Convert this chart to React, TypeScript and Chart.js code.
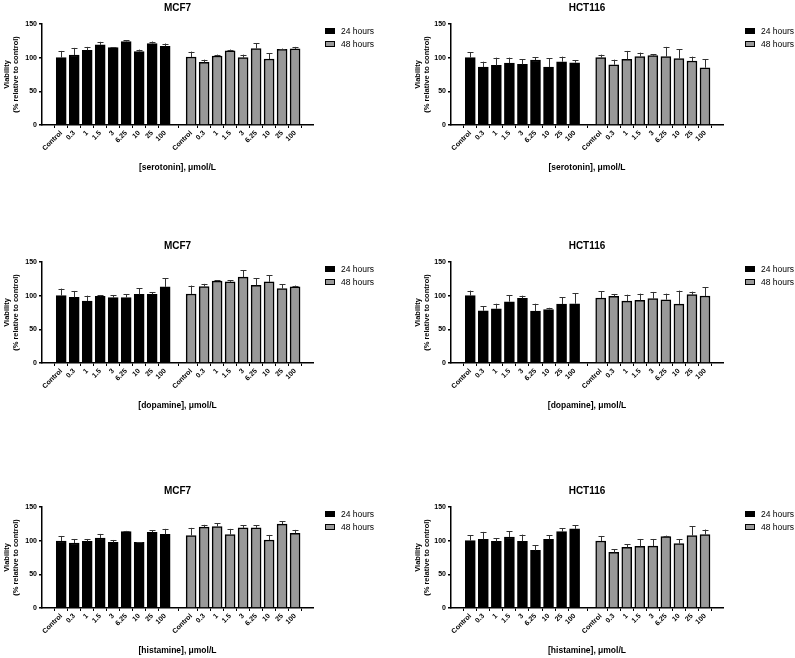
import React, { useEffect, useRef } from 'react';
import { Chart, registerables } from 'chart.js';

Chart.register(...registerables);

const FONT = '"Liberation Sans", Arial, Helvetica, sans-serif';

// ---- data ----
const doseLabels = ['Control', '0.3', '1', '1.5', '3', '6.25', '10', '25', '100'];
const seriesNames = ['24 hours', '48 hours'];
const cellLines = ['MCF7', 'HCT116'];
const compounds = ['serotonin', 'dopamine', 'histamine'];
const yTicks = [0, 50, 100, 150];

const mcf7Serotonin24 = [100, 104, 111, 119, 115, 124, 109, 121, 117];
const mcf7SerotoninSd24 = [10, 10.5, 5, 4.5, 0.5, 1.5, 3, 3, 4];
const mcf7Serotonin48 = [101, 93, 102.5, 110, 100, 113.5, 98, 112.5, 113];
const mcf7SerotoninSd48 = [8, 4, 2, 2, 4.5, 8, 8.5, 1, 3];

const hct116Serotonin24 = [100, 86, 88.5, 92, 90, 96.5, 86, 94, 92.5];
const hct116SerotoninSd24 = [8, 8, 11.5, 8, 8, 4.5, 13, 7.5, 4];
const hct116Serotonin48 = [100, 89.5, 97.5, 101.5, 103, 101.5, 98.5, 95, 85];
const hct116SerotoninSd48 = [4.5, 7.5, 12.5, 6, 2, 14.5, 14, 6.5, 12.5];

const mcf7Dopamine24 = [100, 97.5, 92, 99, 97, 97, 102, 102, 113];
const mcf7DopamineSd24 = [10.5, 9.5, 8, 2, 4, 5, 9, 3, 13];
const mcf7Dopamine48 = [102.5, 113.5, 121.5, 120.5, 127.5, 115.5, 120.5, 110.5, 113];
const mcf7DopamineSd48 = [12.5, 4, 1.5, 2.5, 10, 10.5, 9.5, 6.5, 2];

const hct116Dopamine24 = [100, 77.5, 80.5, 91, 96, 77, 79.5, 87.5, 88];
const hct116DopamineSd24 = [7.5, 6.5, 7.5, 10, 4, 11, 2.5, 10.5, 15.5];
const hct116Dopamine48 = [96.5, 99, 92, 93, 95.5, 94, 87.5, 101.5, 99.5];
const hct116DopamineSd48 = [10, 3.5, 9.5, 10, 10, 9, 20, 4.5, 13];

const mcf7Histamine24 = [99.5, 96.5, 99, 104, 97.5, 113.5, 97.5, 112.5, 109.5];
const mcf7HistamineSd24 = [7.5, 6, 3.5, 6, 3.5, 1, 0.5, 3, 8];
const mcf7Histamine48 = [107.5, 120, 121, 109, 119, 119, 101, 124.5, 111];
const mcf7HistamineSd48 = [11.5, 3.5, 5, 8.5, 4, 4, 7.5, 4, 5];

const hct116Histamine24 = [100, 102, 99, 105.5, 99, 85.5, 102, 113.5, 117.5];
const hct116HistamineSd24 = [8, 11, 4.5, 8.5, 10, 7.5, 6, 5, 5.5];
const hct116Histamine48 = [99.5, 82.5, 90, 91.5, 92, 106, 95.5, 107.5, 109];
const hct116HistamineSd48 = [7.5, 4.5, 4.5, 11, 10.5, 1.5, 7, 14, 7.5];

const panelSpecs = [
  { row: 0, col: 0, cell: cellLines[0], compound: compounds[0], v: [mcf7Serotonin24, mcf7Serotonin48], e: [mcf7SerotoninSd24, mcf7SerotoninSd48] },
  { row: 0, col: 1, cell: cellLines[1], compound: compounds[0], v: [hct116Serotonin24, hct116Serotonin48], e: [hct116SerotoninSd24, hct116SerotoninSd48] },
  { row: 1, col: 0, cell: cellLines[0], compound: compounds[1], v: [mcf7Dopamine24, mcf7Dopamine48], e: [mcf7DopamineSd24, mcf7DopamineSd48] },
  { row: 1, col: 1, cell: cellLines[1], compound: compounds[1], v: [hct116Dopamine24, hct116Dopamine48], e: [hct116DopamineSd24, hct116DopamineSd48] },
  { row: 2, col: 0, cell: cellLines[0], compound: compounds[2], v: [mcf7Histamine24, mcf7Histamine48], e: [mcf7HistamineSd24, mcf7HistamineSd48] },
  { row: 2, col: 1, cell: cellLines[1], compound: compounds[2], v: [hct116Histamine24, hct116Histamine48], e: [hct116HistamineSd24, hct116HistamineSd48] },
];

// ---- layout / style ----
const rowTops = [0, 238, 483];
const colLefts = [0, 400];
const colWidths = [400, 395];
const panelHeight = 175;
const padLeft = [1, 12];
const padRight = [87, 72];
const yScaleWidth = [41, 39];
const legendOffset = [12, 22];
const barColors = ['#000000', '#999999'];

const groupSize = doseLabels.length + 1; // one empty slot between groups
const posFor = (g: number, i: number) => g * groupSize + i;
const tickPositions: number[] = [];
[0, 1].forEach((g) => doseLabels.forEach((_, i) => tickPositions.push(posFor(g, i))));
const labelFor = (v: number) => {
  const r = Math.round(v) % groupSize;
  return doseLabels[r] ?? '';
};

const errorBarsPlugin = {
  id: 'errorBars',
  afterDatasetsDraw(chart: any) {
    const ctx = chart.ctx;
    const yScale = chart.scales.y;
    chart.data.datasets.forEach((ds: any, di: number) => {
      const meta = chart.getDatasetMeta(di);
      meta.data.forEach((bar: any, i: number) => {
        const val = ds.data[i].y;
        const err = ds.errors[i];
        const top = yScale.getPixelForValue(val + err);
        const x = Math.round(bar.x) + 0.5;
        ctx.save();
        ctx.strokeStyle = '#333333';
        ctx.lineWidth = 1;
        ctx.beginPath();
        ctx.moveTo(x, bar.y);
        ctx.lineTo(x, top);
        ctx.moveTo(x - 3, Math.round(top) + 0.5);
        ctx.lineTo(x + 3, Math.round(top) + 0.5);
        ctx.stroke();
        ctx.restore();
      });
    });
  },
};

const sideLegendPlugin = {
  id: 'sideLegend',
  afterDraw(chart: any, _args: any, opts: any) {
    const { ctx, chartArea } = chart;
    const x0 = Math.round(chartArea.right + (opts.offset || 12));
    chart.data.datasets.forEach((ds: any, i: number) => {
      const yc = Math.round(chartArea.top + 7 + i * 12.5);
      ctx.save();
      ctx.fillStyle = ds.backgroundColor;
      ctx.fillRect(x0, yc - 3, 10, 6);
      ctx.strokeStyle = '#000';
      ctx.lineWidth = 1;
      ctx.strokeRect(x0 + 0.5, yc - 2.5, 9, 5);
      ctx.fillStyle = '#000';
      ctx.font = `8.5px ${FONT}`;
      ctx.textBaseline = 'middle';
      ctx.textAlign = 'left';
      ctx.fillText(ds.label, x0 + 16, yc + 0.5);
      ctx.restore();
    });
  },
};

function Panel({ spec }: { spec: any }) {
  const ref = useRef<HTMLCanvasElement>(null);
  const col = spec.col;
  const width = colWidths[col];
  useEffect(() => {
    if (!ref.current) return;
    const datasets = [0, 1].map((g) => ({
      label: seriesNames[g],
      data: spec.v[g].map((y: number, i: number) => ({ x: posFor(g, i), y })),
      errors: spec.e[g],
      backgroundColor: barColors[g],
      borderColor: '#000000',
      borderWidth: 1.5,
      barThickness: 10,
      grouped: false,
    }));
    const chart = new Chart(ref.current, {
      type: 'bar',
      data: { datasets } as any,
      options: {
        responsive: false,
        animation: false,
        devicePixelRatio: 1,
        layout: { padding: { left: padLeft[col], right: padRight[col], top: 0, bottom: 0 } },
        plugins: {
          legend: { display: false },
          tooltip: { enabled: false },
          title: {
            display: true,
            text: spec.cell,
            fullSize: false,
            color: '#000',
            font: { family: FONT, size: 10, weight: 'bold' },
            padding: { top: 2, bottom: 10 },
          },
          sideLegend: { offset: legendOffset[col] },
        } as any,
        scales: {
          x: {
            type: 'linear',
            min: -0.9,
            max: 18.8,
            afterBuildTicks: (s: any) => {
              s.ticks = tickPositions.map((v) => ({ value: v }));
            },
            afterFit: (s: any) => {
              s.height = 50;
            },
            ticks: {
              autoSkip: false,
              minRotation: 45,
              maxRotation: 45,
              padding: 1,
              color: '#000',
              font: { family: FONT, size: 7, weight: 'bold' },
              callback: (v: any) => labelFor(Number(v)),
            },
            grid: { display: true, drawOnChartArea: false, drawTicks: true, tickLength: 3, color: '#000', lineWidth: 1 },
            border: { display: true, color: '#000', width: 1.5 },
            title: {
              display: true,
              text: `[${spec.compound}], μmol/L`,
              color: '#000',
              font: { family: FONT, size: 8.5, weight: 'bold' },
              padding: { top: 0, bottom: 2.5 },
            },
          },
          y: {
            min: yTicks[0],
            max: yTicks[yTicks.length - 1],
            afterBuildTicks: (s: any) => {
              s.ticks = yTicks.map((v) => ({ value: v }));
            },
            afterFit: (s: any) => {
              s.width = yScaleWidth[col];
            },
            ticks: {
              color: '#000',
              padding: 2,
              font: { family: FONT, size: 7, weight: 'bold' },
            },
            grid: { display: true, drawOnChartArea: false, drawTicks: true, tickLength: 3, color: '#000', lineWidth: 1.5 },
            border: { display: true, color: '#000', width: 1.5 },
            title: {
              display: true,
              text: ['Viability', '(% relative to control)'],
              color: '#000',
              font: { family: FONT, size: 7.5, weight: 'bold', lineHeight: 1.2 },
              padding: { top: 1.5, bottom: 0 },
            },
          },
        } as any,
      },
      plugins: [errorBarsPlugin, sideLegendPlugin],
    } as any);
    return () => chart.destroy();
  }, []);
  return (
    <div style={{ position: 'absolute', left: colLefts[col], top: rowTops[spec.row], width, height: panelHeight }}>
      <canvas ref={ref} width={width} height={panelHeight} style={{ display: 'block', width, height: panelHeight }} />
    </div>
  );
}

export default function App() {
  return (
    <div style={{ position: 'absolute', left: 0, top: 0, width: 795, height: 658, background: '#fff', overflow: 'hidden' }}>
      {panelSpecs.map((s, i) => (
        <Panel key={i} spec={s} />
      ))}
    </div>
  );
}
